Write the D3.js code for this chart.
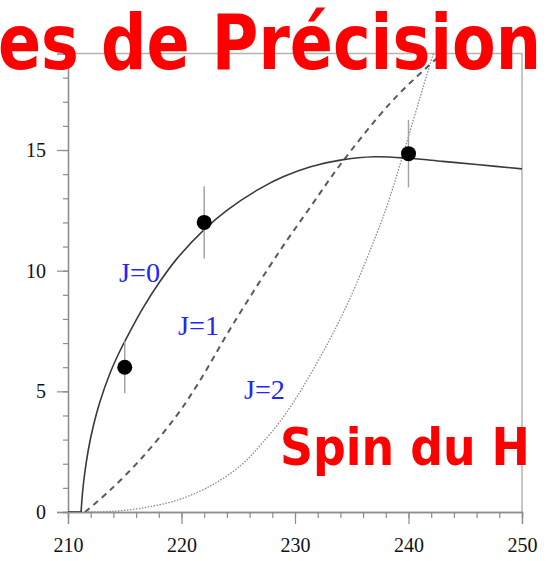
<!DOCTYPE html>
<html>
<head>
<meta charset="utf-8">
<script src="https://cdn.jsdelivr.net/npm/d3@7"></script>
<style>
	body { margin: 0; background: #fff; }
	svg { display: block; }
</style>
</head>
<body>
<svg id="chart" width="551" height="561"></svg>
<script>
// data
const X_TICKS = [210, 220, 230, 240, 250];
const Y_TICKS = [0, 5, 10, 15];

// J=0 (solid), flat below threshold then rising
const J0_FLAT = [[210, 0], [211.15, 0]];
const J0 = [
	[211.15, 0], [211.3, 0.9], [211.5, 1.7], [211.8, 2.6], [212.2, 3.5],
	[212.8, 4.55], [213.7, 5.75], [214.5, 6.6], [215.2, 7.25], [216.6, 8.45],
	[218.1, 9.55], [219.6, 10.5], [222, 11.7], [224, 12.5], [226.9, 13.4],
	[229, 13.9], [231.3, 14.3], [234, 14.58], [237, 14.72], [240, 14.66],
	[243, 14.53], [246, 14.4], [250, 14.22]
];
// J=1 (dashed)
const J1 = [
	[211.5, 0], [213.7, 0.9], [216.6, 2.29], [219.5, 3.95], [221.5, 5.35],
	[224.5, 7.75], [228.7, 10.85], [231.3, 12.6], [234, 14.4], [238.4, 16.95],
	[241.6, 18.42], [243, 19.0]
];
// J=2 (dotted)
const J2 = [
	[211.5, 0], [214, 0.03], [217, 0.2], [220, 0.55], [223, 1.2], [225.4, 2.0],
	[227, 2.8], [229, 3.95], [231.6, 5.9], [234.6, 8.6], [237.5, 11.9],
	[238.4, 13.1], [240.4, 16.2], [241.6, 18.1], [242.2, 19.0]
];

// measured points: x, y, y error
const POINTS = [
	[215, 6.0, 1.08],
	[222, 12.0, 1.5],
	[240, 14.85, 1.4]
];

const LABELS = [
	{text: "J=0", x: 214.5, y: 9.53},
	{text: "J=1", x: 219.7, y: 7.34},
	{text: "J=2", x: 225.5, y: 4.68}
];

const svg = d3.select("#chart");

const x = d3.scaleLinear().domain([210, 250]).range([68, 522]);
const y = d3.scaleLinear().domain([0, 19]).range([512, 53.5]);

// frame (top + right)
svg.append("path")
	.attr("d", `M${x(210)},${y(19)}H${x(250)}V${y(0)}`)
	.attr("fill", "none")
	.attr("stroke", "#b4b4ac")
	.attr("stroke-width", 1.5);

svg.append("defs").append("clipPath").attr("id", "plot-clip")
	.append("rect")
	.attr("x", x(210)).attr("y", y(19))
	.attr("width", x(250) - x(210)).attr("height", y(0) - y(19));

// y axis
const yMinor = svg.append("g").attr("transform", `translate(${x(210)},0)`)
	.call(d3.axisLeft(y).tickValues(d3.range(0, 20, 1)).tickSize(5).tickFormat(""));
const yMajor = svg.append("g").attr("transform", `translate(${x(210)},0)`)
	.call(d3.axisLeft(y).tickValues(Y_TICKS).tickSize(11).tickPadding(11));

// x axis
const xMinor = svg.append("g").attr("transform", `translate(0,${y(0)})`)
	.call(d3.axisBottom(x).tickValues(d3.range(210, 251, 2)).tickSize(6).tickFormat(""));
const xMajor = svg.append("g").attr("transform", `translate(0,${y(0)})`)
	.call(d3.axisBottom(x).tickValues(X_TICKS).tickSize(12));

[yMinor, yMajor, xMinor, xMajor].forEach(g => {
	g.select(".domain").attr("stroke", "#8c8c96").attr("stroke-width", 1.3);
	g.selectAll(".tick line").attr("stroke", "#8c8c8c").attr("stroke-width", 1.2);
	g.selectAll("text")
		.attr("fill", "#111")
		.style("font-family", "'Liberation Serif', 'Times New Roman', serif")
		.style("font-size", "20px");
});
xMajor.selectAll("text").attr("y", 40).attr("dy", null);

// curves
const valueLine = d3.line()
	.x(d => x(d[0]))
	.y(d => y(d[1]))
	.curve(d3.curveCatmullRom.alpha(0.5));

const curves = svg.append("g").attr("clip-path", "url(#plot-clip)");

curves.append("path")
	.data([J2])
	.attr("d", valueLine)
	.attr("fill", "none")
	.attr("stroke", "#8a8a92")
	.attr("stroke-width", 1.3)
	.attr("stroke-dasharray", "1.5,1.5");

curves.append("path")
	.data([J1])
	.attr("d", valueLine)
	.attr("fill", "none")
	.attr("stroke", "#5a5a5e")
	.attr("stroke-width", 2)
	.attr("stroke-dasharray", "6,5");

[J0_FLAT, J0].forEach(seg => {
	curves.append("path")
		.data([seg])
		.attr("d", valueLine)
		.attr("fill", "none")
		.attr("stroke", "#3a3a3a")
		.attr("stroke-width", 1.6);
});

// error bars
svg.append("g").selectAll("line")
	.data(POINTS)
	.join("line")
	.attr("x1", d => x(d[0])).attr("x2", d => x(d[0]))
	.attr("y1", d => y(d[1] - d[2])).attr("y2", d => y(d[1] + d[2]))
	.attr("stroke", "#a4a4a0")
	.attr("stroke-width", 1.5);

svg.append("g").selectAll("circle")
	.data(POINTS)
	.join("circle")
	.attr("cx", d => x(d[0]))
	.attr("cy", d => y(d[1]))
	.attr("r", 7.5)
	.attr("fill", "#000");

// curve labels
svg.append("g").selectAll("text")
	.data(LABELS)
	.join("text")
	.attr("x", d => x(d.x))
	.attr("y", d => y(d.y))
	.attr("fill", "#2424f4")
	.attr("textLength", 41)
	.attr("lengthAdjust", "spacingAndGlyphs")
	.style("font-family", "'Liberation Serif', 'Times New Roman', serif")
	.style("font-size", "27px")
	.text(d => d.text);

// red overlay text
svg.append("text")
	.attr("x", -2)
	.attr("y", 69)
	.attr("fill", "#ff0000")
	.attr("textLength", 543)
	.attr("lengthAdjust", "spacingAndGlyphs")
	.style("font-family", "'DejaVu Sans', sans-serif")
	.style("font-weight", "bold")
	.style("font-size", "76px")
	.text("es de Précision");

svg.append("text")
	.attr("x", 280)
	.attr("y", 465)
	.attr("fill", "#ff0000")
	.attr("textLength", 250)
	.attr("lengthAdjust", "spacingAndGlyphs")
	.style("font-family", "'DejaVu Sans', sans-serif")
	.style("font-weight", "bold")
	.style("font-size", "51px")
	.text("Spin du H");
</script>
</body>
</html>
